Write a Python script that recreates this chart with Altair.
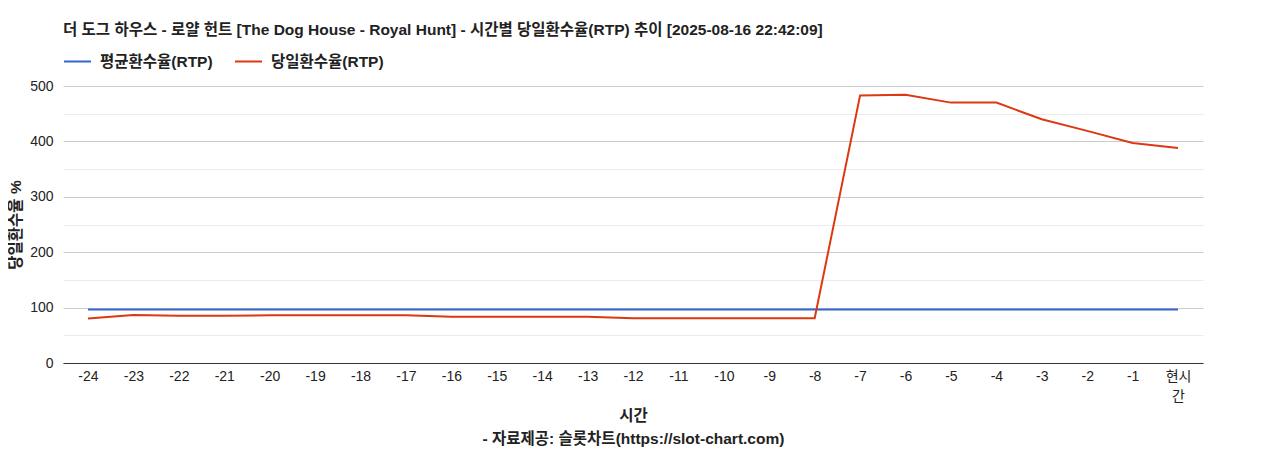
import altair as alt
import pandas as pd

hours = [str(h) for h in range(-24, 0)] + ["현시간"]
avg_rtp = [96.5] * 25
day_rtp = [80.5, 86.5, 85.3, 85.3, 86, 86, 86, 86, 83.5, 83.5, 83.5, 83.5,
           80.7, 80.7, 80.7, 80.7, 80.7, 483, 484, 470, 470, 440, 419, 397, 388]

series_names = ["평균환수율(RTP)", "당일환수율(RTP)"]
colors = ["#3366cc", "#dc3912"]

rows = []
for i, h in enumerate(hours):
    rows.append({"시간": h, "series": series_names[0], "value": avg_rtp[i], "ord": 0})
for i, h in enumerate(hours):
    rows.append({"시간": h, "series": series_names[1], "value": day_rtp[i], "ord": 1})
df = pd.DataFrame(rows)

FONT = "Liberation Sans, Noto Sans CJK KR, sans-serif"

title_text = "더 도그 하우스 - 로얄 헌트 [The Dog House - Royal Hunt] - 시간별 당일환수율(RTP) 추이 [2025-08-16 22:42:09]"

chart = alt.Chart(df).mark_line(strokeWidth=2).encode(
    x=alt.X("시간:N", sort=hours,
            scale=alt.Scale(type="point", padding=0.55),
            axis=alt.Axis(
                title=["시간", "- 자료제공: 슬롯차트(https://slot-chart.com)"],
                titleFontSize=15.5, titleFont=FONT, titleFontWeight="bold",
                titleColor="#222222", titleLineHeight=23, titlePadding=5,
                labelAngle=0, labelFontSize=14, labelFont=FONT, labelColor="#222222",
                labelPadding=6, labelLineHeight=20,
                labelExpr="datum.label == '현시간' ? ['현시', '간'] : datum.label",
                ticks=False, domainColor="#333333", domainWidth=1, grid=False)),
    y=alt.Y("value:Q",
            scale=alt.Scale(domain=[0, 500], nice=False),
            axis=alt.Axis(
                title="당일환수율 %", titleFontSize=15.5, titleFont=FONT,
                titleFontWeight="bold", titleColor="#222222", titlePadding=6,
                values=[0, 50, 100, 150, 200, 250, 300, 350, 400, 450, 500],
                labelExpr="datum.value % 100 === 0 ? datum.label : ''",
                labelFontSize=14, labelFont=FONT, labelColor="#222222",
                labelPadding=10, ticks=False, domain=False,
                gridColor={"condition": {"test": "datum.value % 100 === 0", "value": "#cccccc"},
                           "value": "#ebebeb"})),
    color=alt.Color("series:N",
                    scale=alt.Scale(domain=series_names, range=colors),
                    legend=alt.Legend(
                        title=None, orient="none", legendX=0, legendY=-39,
                        direction="horizontal", symbolType="stroke",
                        symbolSize=729, symbolStrokeWidth=2,
                        labelFontSize=15.5, labelFont=FONT, labelFontWeight="bold",
                        labelColor="#222222", labelOffset=8, columnPadding=18,
                        padding=0)),
    order=alt.Order("ord:Q"),
).properties(
    width=1140, height=277,
    title=alt.TitleParams(title_text, anchor="start", frame="group",
                          fontSize=15.5, font=FONT, fontWeight="bold",
                          color="#222222", offset=9),
    autosize=alt.AutoSizeParams(type="none"),
    padding={"left": 55, "top": 78, "right": 57, "bottom": 86},
).configure_view(stroke=None)

chart.save("out.html", embed_options={"renderer": "svg", "actions": False})
